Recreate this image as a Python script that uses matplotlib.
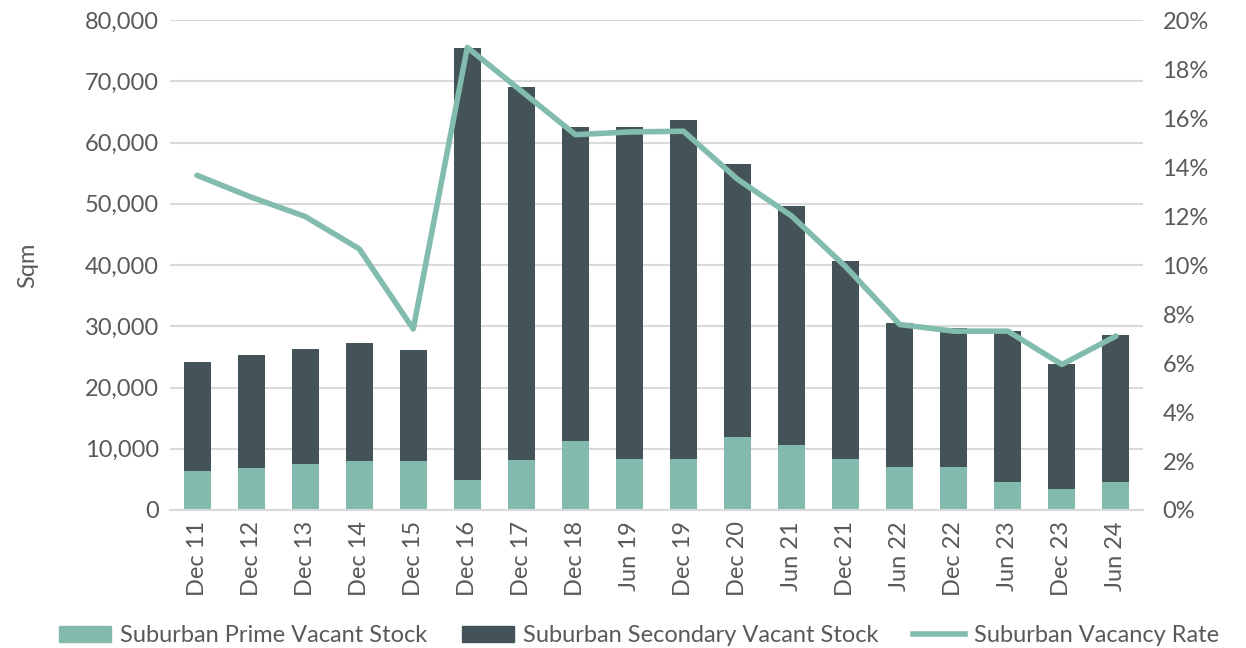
import numpy as np
import matplotlib.pyplot as plt
from matplotlib.patches import Patch
from matplotlib.lines import Line2D
from matplotlib.ticker import FuncFormatter

plt.rcParams['font.family'] = ['Lato', 'DejaVu Sans']

# Dados
periodos = ["Dec 11", "Dec 12", "Dec 13", "Dec 14", "Dec 15", "Dec 16", "Dec 17", "Dec 18",
            "Jun 19", "Dec 19", "Dec 20", "Jun 21", "Dec 21", "Jun 22", "Dec 22", "Jun 23",
            "Dec 23", "Jun 24"]
total = [24200, 25300, 26300, 27300, 26100, 75500, 69100, 62600,
         62500, 63700, 56500, 49700, 40600, 30600, 29700, 29300, 23900, 28600]
prime = [6400, 6900, 7500, 8000, 8000, 4850, 8100, 11300,
         8300, 8300, 12000, 10600, 8400, 6950, 6950, 4500, 3500, 4650]
secundario = [t - p for t, p in zip(total, prime)]
taxa = [13.66, 12.77, 11.98, 10.66, 7.39, 18.88, 17.1, 15.32,
        15.43, 15.46, 13.5, 12.0, 9.93, 7.57, 7.3, 7.3, 5.94, 7.1]

cor_prime = "#82bbad"
cor_sec = "#435358"
cor_linha = "#82bcae"
cor_texto = "#595959"

fig = plt.figure(figsize=(12.46, 6.48), dpi=100)
ax = fig.add_axes([170 / 1246, 1 - 510 / 648, (1143 - 170) / 1246, 490 / 648])

x = np.arange(len(periodos))
ax.bar(x, prime, width=0.5, color=cor_prime, zorder=2)
ax.bar(x, secundario, width=0.5, bottom=prime, color=cor_sec, zorder=2)

ax.set_ylim(0, 80000)
ax.set_yticks(np.arange(0, 80001, 10000))
ax.yaxis.set_major_formatter(FuncFormatter(lambda v, p: f"{int(v):,}"))
ax.set_xlim(-0.5, len(periodos) - 0.5)
ax.set_xticks(x)
ax.set_xticklabels(periodos, rotation=90)
ax.grid(axis='y', color="#d9d9d9", linewidth=1.5, zorder=0)
ax.set_axisbelow(True)
for s in ["top", "right", "left"]:
    ax.spines[s].set_visible(False)
ax.spines["bottom"].set_color("#d9d9d9")
ax.spines["bottom"].set_linewidth(1.5)
ax.tick_params(length=0, labelsize=17, colors=cor_texto, pad=8)
ax.set_ylabel("Sqm", fontsize=17, color=cor_texto)
ax.yaxis.set_label_coords(-0.135, 0.5)

ax2 = ax.twinx()
ax2.plot(x, taxa, color=cor_linha, linewidth=4, zorder=3, solid_capstyle='round')
ax2.set_ylim(0, 20)
ax2.set_yticks(np.arange(0, 21, 2))
ax2.yaxis.set_major_formatter(FuncFormatter(lambda v, p: f"{int(v)}%"))
for s in ax2.spines.values():
    s.set_visible(False)
ax2.tick_params(length=0, labelsize=17, colors=cor_texto, pad=14)

handles = [Patch(color=cor_prime), Patch(color=cor_sec),
           Line2D([0], [0], color=cor_linha, linewidth=4)]
labels = ["Suburban Prime Vacant Stock", "Suburban Secondary Vacant Stock", "Suburban Vacancy Rate"]
fig.legend(handles, labels, loc="lower center", bbox_to_anchor=(0.513, -0.03), ncol=3,
           frameon=False, fontsize=17, labelcolor=cor_texto, handlelength=2.2,
           columnspacing=1.45, handletextpad=0.4)

fig.savefig("out.png", dpi=100)
